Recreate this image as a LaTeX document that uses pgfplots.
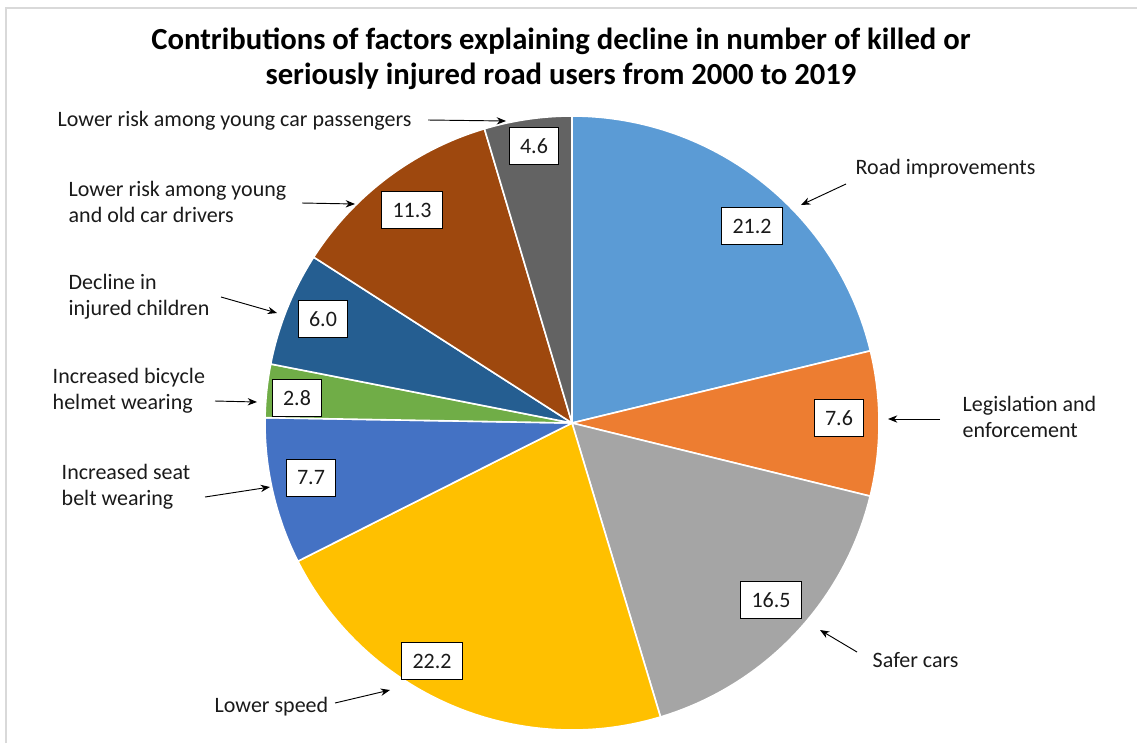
\documentclass[border=0pt]{standalone}
\usepackage{pgfplots}
\pgfplotsset{compat=1.18}
\usepackage{fontspec}
\setmainfont{Carlito}
\usetikzlibrary{arrows.meta}
\definecolor{cRoad}{HTML}{5B9BD5}
\definecolor{cLeg}{HTML}{ED7D31}
\definecolor{cSafe}{HTML}{A5A5A5}
\definecolor{cSpeed}{HTML}{FFC000}
\definecolor{cBelt}{HTML}{4472C4}
\definecolor{cBike}{HTML}{70AD47}
\definecolor{cChild}{HTML}{255E91}
\definecolor{cDrv}{HTML}{9E480E}
\definecolor{cPass}{HTML}{636363}
\definecolor{frame}{HTML}{D9D9D9}
\definecolor{txt}{HTML}{1A1A1A}
\tikzset{
  lbl/.style={font=\fontsize{16.5}{19.5}\selectfont, text=txt, anchor=west, align=left},
  box/.style={draw=black, line width=0.75pt, fill=white, font=\fontsize{16.5}{19.5}\selectfont, text=txt, minimum height=27.5pt, inner xsep=8pt, inner ysep=0pt},
  arr/.style={-{Stealth[length=7pt,width=5.5pt]}, line width=0.7pt, black},
}
\begin{document}
\begin{tikzpicture}
% values (per cent)
\def\vA{21.2}\def\vB{7.6}\def\vC{16.5}\def\vD{22.2}\def\vE{7.7}
\def\vF{2.8}\def\vG{6.0}\def\vH{11.3}\def\vI{4.6}
\pgfmathsetmacro\tot{\vA+\vB+\vC+\vD+\vE+\vF+\vG+\vH+\vI}
\pgfmathsetmacro\aA{90}
\pgfmathsetmacro\aB{\aA-360*\vA/\tot}
\pgfmathsetmacro\aC{\aB-360*\vB/\tot}
\pgfmathsetmacro\aD{\aC-360*\vC/\tot}
\pgfmathsetmacro\aE{\aD-360*\vD/\tot}
\pgfmathsetmacro\aF{\aE-360*\vE/\tot}
\pgfmathsetmacro\aG{\aF-360*\vF/\tot}
\pgfmathsetmacro\aH{\aG-360*\vG/\tot}
\pgfmathsetmacro\aI{\aH-360*\vH/\tot}
\pgfmathsetmacro\aJ{\aI-360*\vI/\tot}
\begin{axis}[name=ax,
  scale only axis, width=852.75pt, height=557.25pt,
  xmin=0, xmax=1137, ymin=0, ymax=743, y dir=reverse,
  axis lines=none, clip=false,
  every axis plot/.append style={draw=white, line width=1.2pt, samples=90, line join=round},
]
\draw[frame, line width=0.9pt] (6,743) -- (6,8) -- (1137,8);
\addplot[fill=cRoad,  domain=\aB:\aA] ({572+307*cos(x)},{423-307*sin(x)}) -- (572,423) -- cycle;
\addplot[fill=cLeg,   domain=\aC:\aB] ({572+307*cos(x)},{423-307*sin(x)}) -- (572,423) -- cycle;
\addplot[fill=cSafe,  domain=\aD:\aC] ({572+307*cos(x)},{423-307*sin(x)}) -- (572,423) -- cycle;
\addplot[fill=cSpeed, domain=\aE:\aD] ({572+307*cos(x)},{423-307*sin(x)}) -- (572,423) -- cycle;
\addplot[fill=cBelt,  domain=\aF:\aE] ({572+307*cos(x)},{423-307*sin(x)}) -- (572,423) -- cycle;
\addplot[fill=cBike,  domain=\aG:\aF] ({572+307*cos(x)},{423-307*sin(x)}) -- (572,423) -- cycle;
\addplot[fill=cChild, domain=\aH:\aG] ({572+307*cos(x)},{423-307*sin(x)}) -- (572,423) -- cycle;
\addplot[fill=cDrv,   domain=\aI:\aH] ({572+307*cos(x)},{423-307*sin(x)}) -- (572,423) -- cycle;
\addplot[fill=cPass,  domain=\aJ:\aI] ({572+307*cos(x)},{423-307*sin(x)}) -- (572,423) -- cycle;
% value boxes
\node[box] at (752,226) {21.2};
\node[box] at (839,418) {7.6};
\node[box] at (771,600) {16.5};
\node[box] at (432,661) {22.2};
\node[box] at (311,478) {7.7};
\node[box] at (297,398) {2.8};
\node[box] at (323,319) {6.0};
\node[box] at (412,210) {11.3};
\node[box] at (534,146) {4.6};
% category labels
\node[lbl] at (851,169) {Road improvements};
\draw[arr] (846,184) -- (801,205);
\node[lbl] at (958,417) {Legislation and\\enforcement};
\draw[arr] (940,419) -- (888,419);
\node[lbl] at (868,660) {Safer cars};
\draw[arr] (857,652) -- (820,630);
\node[lbl] at (210,707) {Lower speed};
\draw[arr] (335,703) -- (390,690);
\node[lbl] at (57,487) {Increased seat\\belt wearing};
\draw[arr] (205,497) -- (270,487);
\node[lbl] at (48,391) {Increased bicycle\\helmet wearing};
\draw[arr] (215,401) -- (257,402);
\node[lbl] at (64,297) {Decline in\\injured children};
\draw[arr] (221,297) -- (277,313);
\node[lbl] at (64,202) {Lower risk among young\\and old car drivers};
\draw[arr] (302,203) -- (355,204);
\node[lbl] at (53,121) {Lower risk among young car passengers};
\draw[arr] (428,120) -- (506,121);
% title
\node[font=\bfseries\fontsize{23}{26.5}\selectfont, align=center, text=black] at (561,59) {Contributions of factors explaining decline in number of killed or\\seriously injured road users from 2000 to 2019};
\end{axis}
\pgfresetboundingbox
\path[use as bounding box] (ax.south west) rectangle (ax.north east);
\end{tikzpicture}
\end{document}
